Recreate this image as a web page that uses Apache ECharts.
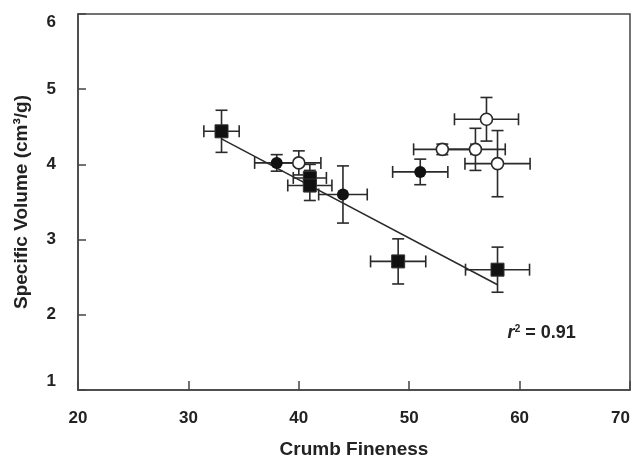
<!DOCTYPE html>
<html>
<head>
<meta charset="utf-8">
<script src="https://cdn.jsdelivr.net/npm/echarts@6/dist/echarts.min.js"></script>
<style>
  html, body { margin: 0; padding: 0; background: #fff; }
  #main { width: 644px; height: 464px; }
</style>
</head>
<body>
<div id="main"></div>
<script>
// filled squares
var sqX = [33, 41, 41, 49, 58];
var sqY = [4.44, 3.82, 3.72, 2.71, 2.6];
var sqXErr = [1.6, 1.5, 2.0, 2.5, 2.9];
var sqYErr = [0.28, 0.18, 0.2, 0.3, 0.3];

// filled circles
var dotX = [38, 44, 51];
var dotY = [4.02, 3.6, 3.9];
var dotXErr = [2.0, 2.2, 2.5];
var dotYErr = [0.11, 0.38, 0.17];

// open circles
var ringX = [40, 53, 56, 57, 58];
var ringY = [4.02, 4.2, 4.2, 4.6, 4.01];
var ringXErr = [2.0, 2.6, 2.7, 2.9, 2.95];
var ringYErr = [0.16, 0.07, 0.28, 0.29, 0.44];

// regression line ends and r2
var fitLine = [[33, 4.34], [58, 2.4]];
var rSquared = '0.91';
var rLabelAt = [62, 1.76];

var xTicks = [20, 70, 10];
var yTicks = [1, 6, 1];

var ink = '#2a2a2a';

function pairs(xs, ys) {
  return xs.map(function (x, i) { return [x, ys[i]]; });
}

function errorBars(xs, ys, xe, ye) {
  return {
    type: 'custom',
    z: 1,
    data: xs.map(function (x, i) { return [x, ys[i], xe[i], ye[i]]; }),
    encode: { x: 0, y: 1 },
    renderItem: function (params, api) {
      var x = api.value(0), y = api.value(1), dx = api.value(2), dy = api.value(3);
      var l = api.coord([x - dx, y]), r = api.coord([x + dx, y]);
      var t = api.coord([x, y + dy]), b = api.coord([x, y - dy]);
      var c = 6;
      var st = { stroke: ink, lineWidth: 1.6 };
      function seg(x1, y1, x2, y2) {
        return { type: 'line', shape: { x1: x1, y1: y1, x2: x2, y2: y2 }, style: st };
      }
      return {
        type: 'group',
        children: [
          seg(l[0], l[1], r[0], r[1]),
          seg(l[0], l[1] - c, l[0], l[1] + c),
          seg(r[0], r[1] - c, r[0], r[1] + c),
          seg(t[0], t[1], b[0], b[1]),
          seg(t[0] - c, t[1], t[0] + c, t[1]),
          seg(b[0] - c, b[1], b[0] + c, b[1])
        ]
      };
    }
  };
}

var font = 'Liberation Sans, Arial, sans-serif';

var option = {
  animation: false,
  backgroundColor: '#fff',
  grid: {
    left: 78, right: 14, top: 14, bottom: 72,
    show: true, borderColor: '#444', borderWidth: 1.5, backgroundColor: 'transparent'
  },
  xAxis: {
    type: 'value',
    min: xTicks[0], max: xTicks[1], interval: xTicks[2],
    name: 'Crumb Fineness',
    nameLocation: 'middle',
    nameGap: 50,
    nameTextStyle: { fontFamily: font, fontWeight: 'bold', fontSize: 19, color: '#222' },
    axisLine: { lineStyle: { color: '#444', width: 1.5 } },
    axisTick: { inside: true, length: 9, lineStyle: { color: '#444', width: 1.5 } },
    axisLabel: { margin: 20, fontFamily: font, fontWeight: 'bold', fontSize: 17, color: '#222', alignMaxLabel: 'right' },
    splitLine: { show: false }
  },
  yAxis: {
    type: 'value',
    min: yTicks[0], max: yTicks[1], interval: yTicks[2],
    name: 'Specific Volume (cm³/g)',
    nameLocation: 'middle',
    nameGap: 47,
    nameTextStyle: { fontFamily: font, fontWeight: 'bold', fontSize: 19, color: '#222' },
    axisLine: { lineStyle: { color: '#444', width: 1.5 } },
    axisTick: { inside: true, length: 8, lineStyle: { color: '#444', width: 1.5 } },
    axisLabel: {
      margin: 22, fontFamily: font, fontWeight: 'bold', fontSize: 17, color: '#222',
      verticalAlignMinLabel: 'bottom', verticalAlignMaxLabel: 'top'
    },
    splitLine: { show: false }
  },
  series: [
    errorBars(sqX, sqY, sqXErr, sqYErr),
    errorBars(dotX, dotY, dotXErr, dotYErr),
    errorBars(ringX, ringY, ringXErr, ringYErr),
    {
      type: 'line',
      z: 2,
      data: fitLine,
      symbol: 'none',
      lineStyle: { color: ink, width: 1.5 },
      markPoint: {
        symbolSize: 0,
        data: [{ coord: rLabelAt }],
        label: {
          show: true,
          formatter: '{i|r}{s|2}{n| = ' + rSquared + '}',
          rich: {
            i: { fontFamily: font, fontWeight: 'bold', fontStyle: 'italic', fontSize: 18, color: '#222' },
            s: { fontFamily: font, fontWeight: 'bold', fontSize: 10, color: '#222', verticalAlign: 'top', padding: [0, 0, 8, 0] },
            n: { fontFamily: font, fontWeight: 'bold', fontSize: 18, color: '#222' }
          }
        }
      }
    },
    {
      type: 'scatter',
      z: 3,
      data: pairs(sqX, sqY),
      symbol: 'rect',
      symbolSize: 13,
      itemStyle: { color: '#111', borderColor: '#333', borderWidth: 1, opacity: 1 }
    },
    {
      type: 'scatter',
      z: 3,
      data: pairs(dotX, dotY),
      symbol: 'circle',
      symbolSize: 12,
      itemStyle: { color: '#111', opacity: 1 }
    },
    {
      type: 'scatter',
      z: 3,
      data: pairs(ringX, ringY),
      symbol: 'circle',
      symbolSize: 12,
      itemStyle: { color: '#fff', borderColor: ink, borderWidth: 1.6, opacity: 1 }
    }
  ]
};

var chart = echarts.init(document.getElementById('main'));
chart.setOption(option);
</script>
</body>
</html>
